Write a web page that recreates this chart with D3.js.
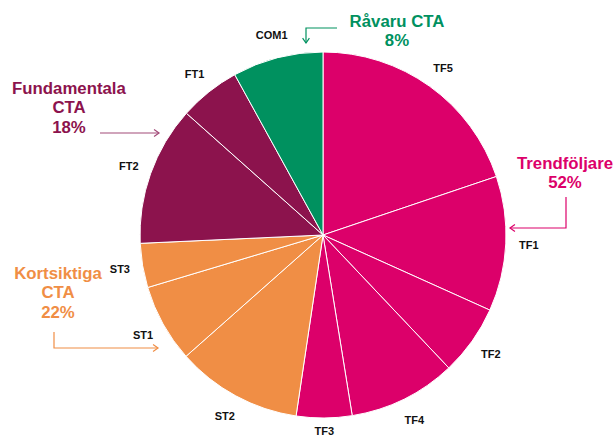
<!DOCTYPE html>
<html>
<head>
<meta charset="utf-8">
<script src="https://cdn.jsdelivr.net/npm/d3@7"></script>
<style>
  body { margin: 0; background: #fff; }
  text { font-family: "Liberation Sans", Arial, sans-serif; font-weight: bold; }
</style>
</head>
<body>
<div id="app"></div>
<script>
/////////DATA///////////
const slices = ['TF5', 'TF1', 'TF2', 'TF4', 'TF3', 'ST2', 'ST1', 'ST3', 'FT2', 'FT1', 'COM1'];
const shares = [19.8, 11.9, 6.2, 9.5, 4.9, 11.1, 6.9, 3.9, 12.3, 5.4, 8.0];
const groupOf = ['TF', 'TF', 'TF', 'TF', 'TF', 'ST', 'ST', 'ST', 'FT', 'FT', 'COM'];

const groups = ['TF', 'ST', 'FT', 'COM'];
const groupLines = [['Trendföljare', '52%'], ['Kortsiktiga', 'CTA', '22%'], ['Fundamentala', 'CTA', '18%'], ['Råvaru CTA', '8%']];
const groupColors = ['#DC006A', '#F08E45', '#8C134D', '#00915F'];

const data = slices.map((s, i) => ({ name: s, value: shares[i], group: groupOf[i] }));

/////////SVG///////////
const w = 615, h = 436;
const cx = 323, cy = 235, r = 183;

const svg = d3.select('#app')
  .append('svg')
  .attr('width', w)
  .attr('height', h);

const color = d3.scaleOrdinal().domain(groups).range(groupColors);

const pie = d3.pie().sort(null).value((d) => d.value);
const arc = d3.arc().innerRadius(0).outerRadius(r);
const labelArc = d3.arc().innerRadius(206).outerRadius(206);

const g = svg.append('g').attr('transform', 'translate(' + cx + ',' + cy + ')');

g.selectAll('path')
  .data(pie(data))
  .enter()
  .append('path')
  .attr('d', arc)
  .attr('fill', (d) => color(d.data.group))
  .attr('stroke', '#fff')
  .attr('stroke-width', 1);

// labels sit just outside the rim; the bottom one is held inside the page
g.selectAll('.slice-label')
  .data(pie(data))
  .enter()
  .append('text')
  .attr('class', 'slice-label')
  .attr('transform', (d) => {
    const [x, y] = labelArc.centroid(d);
    return 'translate(' + x + ',' + Math.min(y, h - cy - 5) + ')';
  })
  .attr('text-anchor', 'middle')
  .attr('dy', '0.35em')
  .attr('font-size', 11)
  .attr('fill', '#111')
  .text((d) => d.data.name);

/////////GROUP LABELS///////////
const groupPos = { TF: [565, 163], ST: [58, 273], FT: [69, 88], COM: [397, 21] };

groups.forEach((k, i) => {
  const t = svg.append('text')
    .attr('x', groupPos[k][0])
    .attr('y', groupPos[k][1])
    .attr('text-anchor', 'middle')
    .attr('font-size', 16.8)
    .attr('fill', groupColors[i]);
  groupLines[i].forEach((line, j) => {
    t.append('tspan')
      .attr('x', groupPos[k][0])
      .attr('y', groupPos[k][1] + j * 19.5)
      .attr('dy', '0.35em')
      .text(line);
  });
});

/////////ARROWS///////////
function arrow(points, col) {
  svg.append('path')
    .attr('d', d3.line()(points))
    .attr('fill', 'none')
    .attr('stroke', col)
    .attr('stroke-width', 1.2);
  const [x1, y1] = points[points.length - 2];
  const [x2, y2] = points[points.length - 1];
  const a = Math.atan2(y2 - y1, x2 - x1);
  const s = 6;
  const head = [
    [x2 - s * Math.cos(a - 0.6), y2 - s * Math.sin(a - 0.6)],
    [x2, y2],
    [x2 - s * Math.cos(a + 0.6), y2 - s * Math.sin(a + 0.6)]
  ];
  svg.append('path')
    .attr('d', d3.line()(head))
    .attr('fill', 'none')
    .attr('stroke', col)
    .attr('stroke-width', 1.2);
}

arrow([[337, 28], [306, 28], [306, 43]], groupColors[3]);
arrow([[566, 197], [566, 228], [510, 228]], groupColors[0]);
arrow([[100, 133], [159, 133]], '#A24A78');
arrow([[54, 332], [54, 348], [158, 348]], groupColors[1]);
</script>
</body>
</html>
